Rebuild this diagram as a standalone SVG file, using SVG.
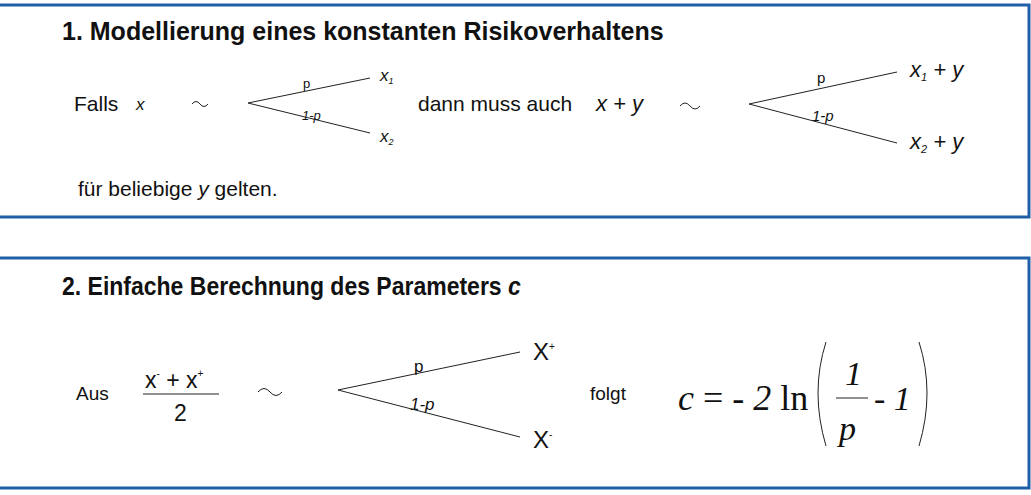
<svg xmlns="http://www.w3.org/2000/svg" width="1031" height="495" viewBox="0 0 1031 495">
<style>
.box{fill:#fff;stroke:#1f5fa8;stroke-width:3}
.t{font-family:"Liberation Sans",Arial,sans-serif;fill:#111}
.h{font-size:25px;font-weight:bold}
.i{font-style:italic}
.s{font-family:"Liberation Serif","Times New Roman",serif;fill:#111}
.ln{stroke:#222;stroke-width:1;fill:none}
</style>
<rect width="1031" height="495" fill="#fff"/>
<g id="panel1">
<rect class="box" x="-2" y="5" width="1031" height="212"/>
<text class="t h" x="62" y="40">1. Modellierung eines konstanten Risikoverhaltens</text>
<text class="t" x="74" y="111" font-size="21">Falls</text>
<text class="t i" x="136" y="110" font-size="17">x</text>
<path class="ln" d="M192,104 q4,-5 8,0 t8,0" stroke="#555"/>
<text class="t" x="418" y="111" font-size="21">dann muss auch</text>
<text class="t i" x="596" y="111" font-size="22">x + y</text>
<path class="ln" d="M680,106 q5,-6 10,0 t10,0" stroke="#555"/>
<text class="t" x="78" y="196" font-size="21">für beliebige <tspan class="i">y</tspan> gelten.</text>
</g>
<g id="panel2">
<rect class="box" x="-2" y="258" width="1031" height="230"/>
<text class="t h" x="62" y="295" transform="translate(62 0) scale(0.92 1) translate(-62 0)">2. Einfache Berechnung des Parameters <tspan class="i">c</tspan></text>
<text class="t" x="76" y="400" font-size="19">Aus</text>
<text class="t" x="145" y="388" font-size="23">x<tspan font-size="10" dy="-11">-</tspan><tspan dy="11"> + x</tspan><tspan font-size="10" dy="-11">+</tspan></text>
<line class="ln" x1="143" y1="394" x2="219" y2="394"/>
<text class="t" x="174" y="421" font-size="23">2</text>
<path class="ln" d="M258,392 q6,-7 12,0 t12,0" stroke="#444"/>
<text class="t" x="590" y="400" font-size="19">folgt</text>
<text class="s" x="678" y="410" font-size="36"><tspan class="i">c</tspan> = - <tspan class="i">2</tspan> ln</text>
<path d="M826,342 q-16,50 0,104" class="ln" stroke-width="1.5"/>
<text class="s i" x="845" y="385" font-size="34">1</text>
<line class="ln" x1="836" y1="398" x2="868" y2="398" stroke-width="1.5"/>
<text class="s i" x="839" y="440" font-size="34">p</text>
<text class="s" x="874" y="410" font-size="34">- <tspan class="i">1</tspan></text>
<path d="M919,342 q16,50 0,104" class="ln" stroke-width="1.5"/>
</g>
<g id="tree1">
<text class="t" x="303" y="88" font-size="13">p</text>
<text class="t i" x="302" y="120" font-size="13">1-p</text>
<text class="t i" x="380" y="81" font-size="17">x<tspan font-size="9" dy="3">1</tspan></text>
<text class="t i" x="380" y="142" font-size="17">x<tspan font-size="9" dy="3">2</tspan></text>
</g>
<g id="tree2">
<text class="t" x="817" y="83" font-size="15">p</text>
<text class="t i" x="812" y="121" font-size="15">1-p</text>
<text class="t i" x="910" y="77" font-size="22">x<tspan font-size="11" dy="4">1</tspan><tspan dy="-4"> + y</tspan></text>
<text class="t i" x="910" y="149" font-size="22">x<tspan font-size="11" dy="4">2</tspan><tspan dy="-4"> + y</tspan></text>
</g>
<g id="tree3">
<text class="t" x="414" y="372" font-size="17">p</text>
<text class="t i" x="410" y="410" font-size="17">1-p</text>
<text class="t" x="533" y="360" font-size="24">X<tspan font-size="10" dy="-10">+</tspan></text>
<text class="t" x="533" y="448" font-size="24">X<tspan font-size="10" dy="-10">-</tspan></text>
</g>
<g id="connectors">
<path class="ln" d="M370,78 L248,103 L370,133"/>
<path class="ln" d="M897,72 L749,104 L897,143"/>
<path class="ln" d="M520,352 L338,390 L520,437"/>
</g>
</svg>
